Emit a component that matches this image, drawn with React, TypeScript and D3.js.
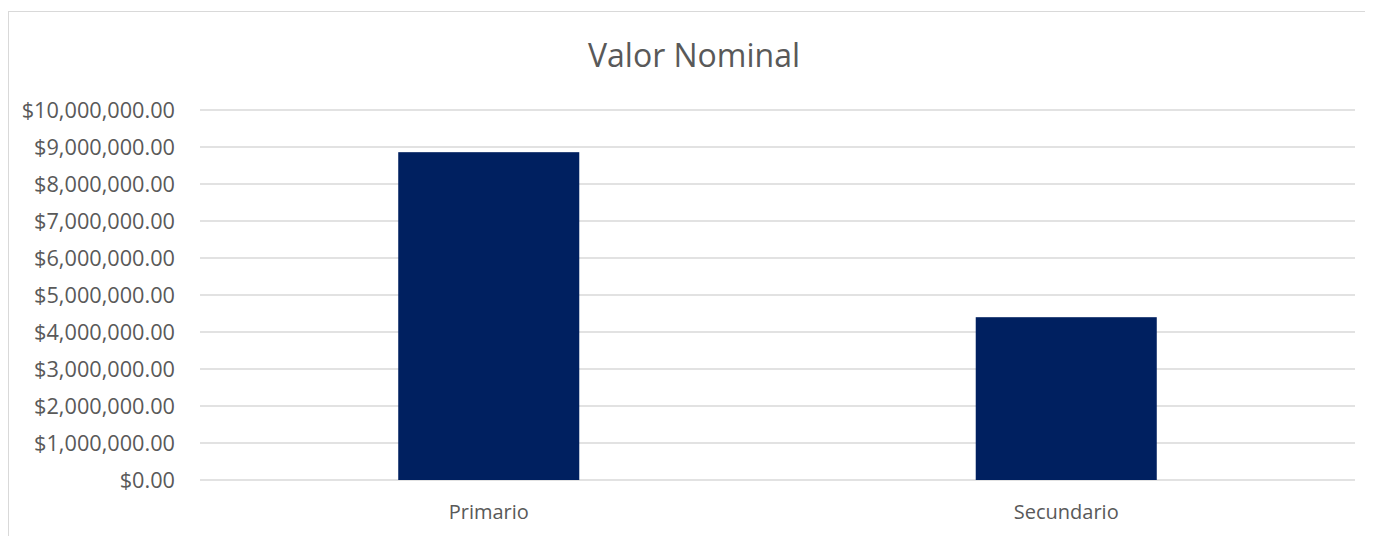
import React, { useEffect } from "react";
import * as d3 from "d3";

// datos
const categorias = ["Primario", "Secundario"];
const valores = [8860000, 4400000];
const ticks = [0, 1000000, 2000000, 3000000, 4000000, 5000000, 6000000, 7000000, 8000000, 9000000, 10000000];
const titulo = "Valor Nominal";

const W = 1365;
const H = 528;
// page coords minus the 8px body margin
const plot = { left: 192, right: 1347, top: 102, bottom: 472 };

const fmt = (v: number) => "$" + d3.format(",.2f")(v);

export default function App() {
  useEffect(() => {
    document.body.style.overflow = "hidden";
  }, []);

  const x = d3
    .scaleBand<string>()
    .domain(categorias)
    .range([plot.left, plot.right])
    .padding(0);
  const y = d3.scaleLinear().domain([0, 10000000]).range([plot.bottom, plot.top]);

  // ancho de barra tipo Excel (gap width 219%)
  const barW = x.bandwidth() / 3.19;

  return (
    <svg width={W} height={H} style={{ display: "block", overflow: "hidden" }}>
      {/* marco del área del gráfico: solo borde superior e izquierdo visibles */}
      <line x1={0} x2={W} y1={3.5} y2={3.5} stroke="#D9D9D9" />
      <line x1={0.5} x2={0.5} y1={3} y2={H} stroke="#D9D9D9" />
      <text
        x={686}
        y={59}
        textAnchor="middle"
        fontFamily="Open Sans"
        fontSize={32}
        fill="#595959"
      >
        {titulo}
      </text>
      <g>
        {ticks.map((t) => (
          <g key={t}>
            <line
              x1={plot.left}
              x2={plot.right}
              y1={y(t)}
              y2={y(t)}
              stroke="#D9D9D9"
              strokeWidth={1.3}
            />
            <text
              x={plot.left - 25}
              y={y(t)}
              dy="0.35em"
              textAnchor="end"
              fontFamily="Open Sans"
              fontSize={21.7}
              fill="#595959"
            >
              {fmt(t)}
            </text>
          </g>
        ))}
      </g>
      <g>
        {categorias.map((c, i) => (
          <rect
            key={c}
            x={x(c)! + x.bandwidth() / 2 - barW / 2}
            y={y(valores[i])}
            width={barW}
            height={y(0) - y(valores[i])}
            fill="#002060"
          />
        ))}
      </g>
      <g>
        {categorias.map((c) => (
          <text
            key={c}
            x={x(c)! + x.bandwidth() / 2}
            y={511}
            textAnchor="middle"
            fontFamily="Open Sans"
            fontSize={20}
            fill="#595959"
          >
            {c}
          </text>
        ))}
      </g>
    </svg>
  );
}
